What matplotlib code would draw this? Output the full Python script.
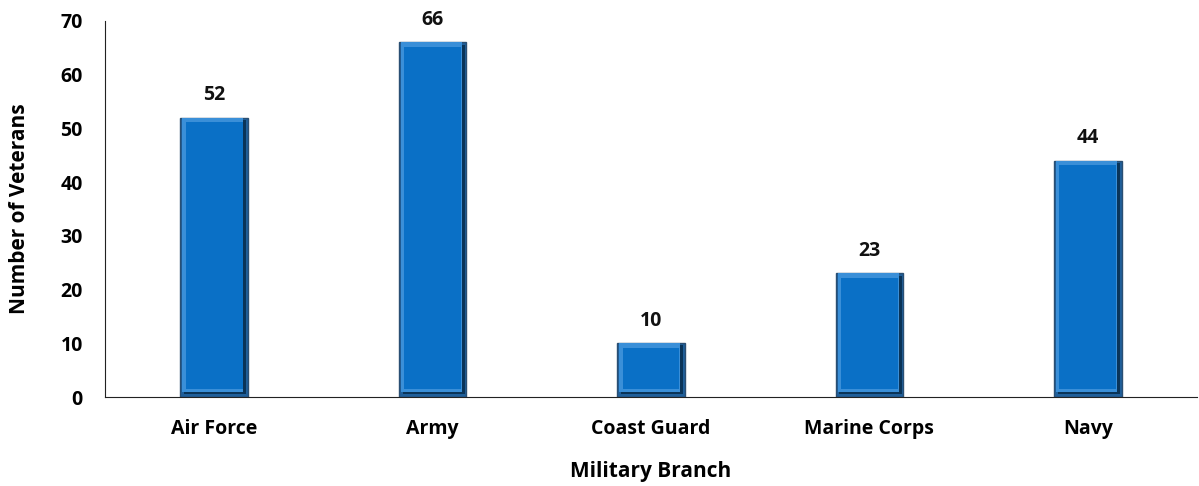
import matplotlib
matplotlib.use("Agg")
import matplotlib.pyplot as plt
import numpy as np

branches = ["Air Force", "Army", "Coast Guard", "Marine Corps", "Navy"]
veterans = [52, 66, 10, 23, 44]

plt.rcParams['font.family'] = ['Open Sans', 'DejaVu Sans']
fig = plt.figure(figsize=(11.99, 4.86), dpi=100)
ax = fig.add_axes([105/1199, 89/486, 1092/1199, 376/486])

x = np.arange(len(branches))
vals = np.array(veterans, dtype=float)
w = 0.31
# outer dark edge
ax.bar(x, vals, width=w, color="#1f5f9a", edgecolor="#2a4f73", linewidth=1.0, zorder=2)
# right/bottom shade
ax.bar(x + 0.005, vals - 0.9, bottom=0.5, width=w - 0.025, color="#0a3458", linewidth=0, zorder=3)
# light top/left
ax.bar(x - 0.006, vals - 1.0, bottom=1.0, width=w - 0.03, color="#3a8fd8", linewidth=0, zorder=4)
# face
ax.bar(x, vals - 2.3, bottom=1.5, width=w - 0.05, color="#0a70c6", linewidth=0, zorder=5)

for xi, v in zip(x, veterans):
    ax.annotate(str(v), (xi, v), xytext=(0, 9), textcoords="offset points",
                ha="center", va="bottom", fontsize=14, fontweight="bold", color="#111111")

ax.set_xlim(-0.5, len(branches) - 0.5)
ax.set_ylim(0, 70)
ax.set_yticks(range(0, 71, 10))
ax.set_xticks(x)
ax.set_xticklabels(branches)
for lab in ax.get_xticklabels() + ax.get_yticklabels():
    lab.set_fontweight("bold")
    lab.set_fontsize(14)
ax.tick_params(axis="y", length=0, pad=16)
ax.tick_params(axis="x", length=0, pad=16)
ax.spines["top"].set_visible(False)
ax.spines["right"].set_visible(False)
ax.spines["left"].set_color("#222222")
ax.spines["bottom"].set_color("#222222")
ax.set_xlabel("Military Branch", fontsize=15, fontweight="bold", labelpad=16)
ax.set_ylabel("Number of Veterans", fontsize=15, fontweight="bold", labelpad=22)

fig.savefig("out.png", dpi=100)
